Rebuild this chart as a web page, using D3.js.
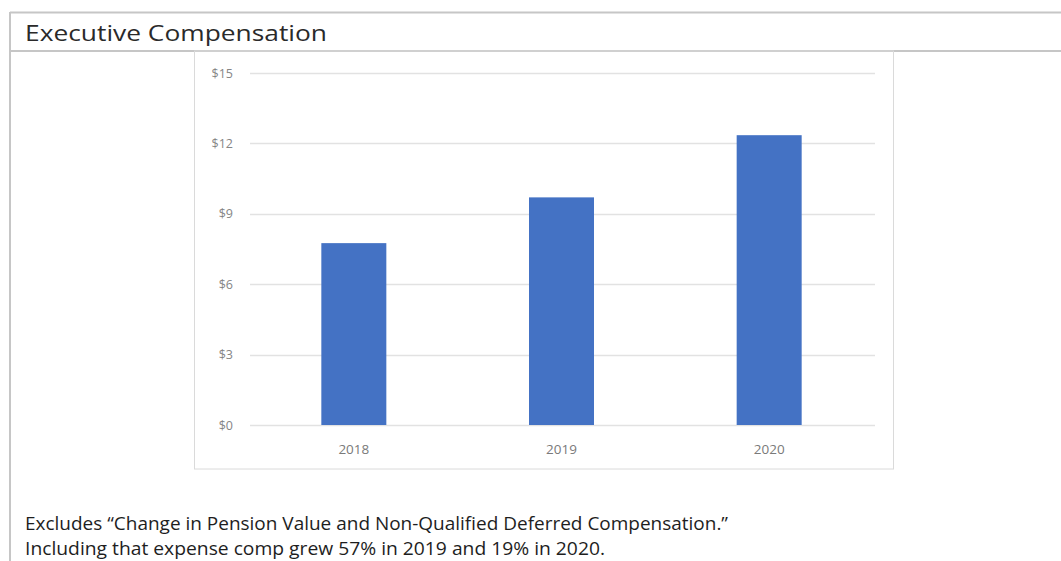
<!DOCTYPE html>
<html>
<head>
<meta charset="utf-8">
<script src="https://cdn.jsdelivr.net/npm/d3@7"></script>
<style>
  html, body { margin: 0; padding: 0; background: #fff; }
  svg { display: block; }
</style>
</head>
<body>
<script>
// Executive compensation by year ($ millions)
const years = ["2018", "2019", "2020"];
const compensation = [7.75, 9.7, 12.35];
const yTicks = [0, 3, 6, 9, 12, 15];
const title = "Executive Compensation";
const notes = [
  "Excludes \u201cChange in Pension Value and Non-Qualified Deferred Compensation.\u201d",
  "Including that expense comp grew 57% in 2019 and 19% in 2020."
];

const W = 1061, H = 561;
const svg = d3.select("body").append("svg").attr("width", W).attr("height", H);

// Panel frame: outer top and left edges, title separator
const panelStroke = "#c6c6c6";
svg.append("line").attr("x1", 10).attr("x2", W).attr("y1", 12.5).attr("y2", 12.5)
  .attr("stroke", panelStroke).attr("stroke-width", 2);
svg.append("line").attr("x1", 10).attr("x2", 10).attr("y1", 12).attr("y2", H)
  .attr("stroke", panelStroke).attr("stroke-width", 2);
svg.append("line").attr("x1", 10).attr("x2", W).attr("y1", 51).attr("y2", 51)
  .attr("stroke", panelStroke).attr("stroke-width", 2);

svg.append("text").attr("x", 25).attr("y", 41)
  .attr("font-family", "'Open Sans', sans-serif").attr("font-size", 21)
  .attr("fill", "#2a2a2a").attr("textLength", 302).attr("lengthAdjust", "spacingAndGlyphs")
  .text(title);

// Chart area border
svg.append("rect").attr("x", 194.5).attr("y", 51).attr("width", 699).attr("height", 418)
  .attr("fill", "none").attr("stroke", "#dadada").attr("stroke-width", 1);

const x = d3.scaleBand().domain(years).range([250, 873]).paddingInner(0.687).paddingOuter(0.3435);
const y = d3.scaleLinear().domain([0, 15]).range([425, 73]);

// Gridlines
svg.append("g").selectAll("line").data(yTicks).join("line")
  .attr("x1", 250).attr("x2", 875)
  .attr("y1", d => Math.round(y(d)) + 0.5).attr("y2", d => Math.round(y(d)) + 0.5)
  .attr("stroke", "#e2e2e2").attr("stroke-width", 1.5);

// Y axis labels
const yAxis = d3.axisLeft(y).tickValues(yTicks).tickSize(0).tickPadding(0)
  .tickFormat(d => "$" + d);
const gy = svg.append("g").attr("transform", "translate(233,0)").call(yAxis);
gy.select(".domain").remove();
gy.selectAll("text").attr("font-family", "'Open Sans', sans-serif")
  .attr("font-size", 12.5).attr("fill", "#858585");

// Bars
svg.append("g").selectAll("rect").data(compensation).join("rect")
  .attr("x", (d, i) => x(years[i]))
  .attr("width", x.bandwidth())
  .attr("y", d => y(d))
  .attr("height", d => y(0) - y(d))
  .attr("fill", "#4472c4");

// X axis labels
const xAxis = d3.axisBottom(x).tickSize(0).tickPadding(0);
const gx = svg.append("g").attr("transform", "translate(0,444)").call(xAxis);
gx.select(".domain").remove();
gx.selectAll("text").attr("font-family", "'Open Sans', sans-serif")
  .attr("font-size", 13.5).attr("fill", "#7a7a7a");

// Footnotes
const noteWidths = [703, 580];
svg.append("g").selectAll("text").data(notes).join("text")
  .attr("x", 25).attr("y", (d, i) => 530 + i * 25)
  .attr("font-family", "'Open Sans', sans-serif").attr("font-size", 18)
  .attr("fill", "#1e1e1e")
  .attr("textLength", (d, i) => noteWidths[i]).attr("lengthAdjust", "spacingAndGlyphs")
  .text(d => d);
</script>
</body>
</html>
